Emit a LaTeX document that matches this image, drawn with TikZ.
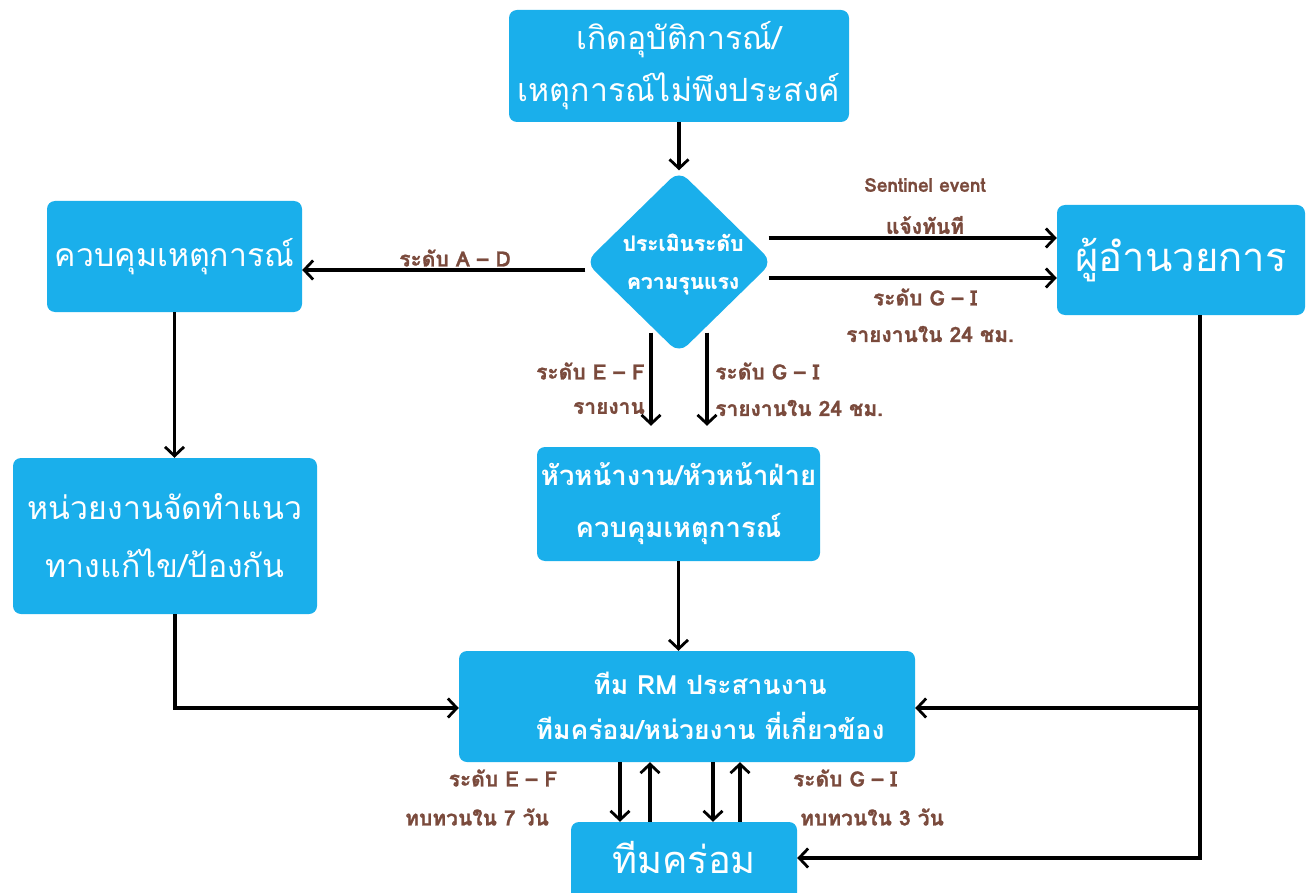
\documentclass[tikz,border=0pt]{standalone}
\usepackage{fontspec}
\newfontfamily\thai[Script=Thai]{Loma}
\newfontfamily\thaiheavy[Script=Thai,BoldFeatures={FakeBold=1.2}]{Loma}
\usetikzlibrary{shapes.geometric,arrows.meta}
\definecolor{boxblue}{RGB}{26,175,235}
\definecolor{lblbrown}{RGB}{122,74,60}
\tikzset{
  box/.style={fill=boxblue, rounded corners=8pt, text=white, align=center,
    inner sep=0pt, font=\thai\fontsize{32}{52}\selectfont},
  boxtext/.style={text=white, align=center, inner sep=0pt},
  decide/.style={diamond, fill=boxblue, rounded corners=12pt, inner sep=0pt},
  lbl/.style={text=lblbrown, inner sep=0pt, font=\thaiheavy\bfseries\fontsize{21}{24}\selectfont},
  arr/.style={line width=3.4pt, -{Straight Barb[length=9pt,width=19pt,line width=2.8pt]}}
}
\begin{document}
\begin{tikzpicture}[x=1pt,y=-1pt]
\useasboundingbox (0,0) rectangle (1306,893);

% process boxes
\node[box, minimum width=340, minimum height=112] (top) at (679,66)
  {เกิดอุบัติการณ์/\\เหตุการณ์ไม่พึงประสงค์};
\node[decide, minimum width=187, minimum height=183] (d) at (679,262) {};
\node[boxtext, font=\thaiheavy\bfseries\fontsize{21}{38}\selectfont] (dtxt) at (683,264)
  {ประเมินระดับ\\ความรุนแรง};
\node[box, minimum width=255, minimum height=111] (ctrl) at (174.5,256.5) {ควบคุมเหตุการณ์};
\node[box, minimum width=248, minimum height=110, font=\thai\fontsize{40}{44}\selectfont] (dir) at (1181,260) {ผู้อำนวยการ};
\node[box, minimum width=304, minimum height=156, font=\thai\fontsize{32}{58}\selectfont] (fix) at (165,536)
  {หน่วยงานจัดทำแนว\\ทางแก้ไข/ป้องกัน};
\node[box, minimum width=283, minimum height=114, font=\thai\bfseries\fontsize{27.5}{52}\selectfont] (head) at (678.5,504)
  {หัวหน้างาน/หัวหน้าฝ่าย\\ควบคุมเหตุการณ์};
\node[box, minimum width=456, minimum height=111] (rm) at (687,706.5) {};
\node[boxtext, font=\thai\bfseries\fontsize{26.5}{45}\selectfont] (rmtxt) at (710,706)
  {ทีม RM ประสานงาน\\ทีมคร่อม/หน่วยงาน ที่เกี่ยวข้อง};
\node[box, minimum width=226, minimum height=80] (team) at (684,862) {};
\node[boxtext, font=\thai\fontsize{38}{40}\selectfont] (teamtxt) at (684,857) {ทีมคร่อม};

% connectors
\draw[arr] (top.south) -- (d.north);
\draw[arr] ([yshift=-8pt]d.west) -- ([yshift=-8pt]d.west -| ctrl.east);
\draw[arr] ([xshift=-4pt,yshift=24pt]d.east) -- ([yshift=22pt]dir.west);
\draw[arr] ([xshift=-4pt,yshift=-16pt]d.east) -- ([yshift=-18pt]dir.west);
\draw[arr] ([xshift=-28pt,yshift=21pt]d.south) -- ([xshift=-28pt,yshift=21pt]d.south |- head.north);
\draw[arr] ([xshift=28pt,yshift=21pt]d.south) -- ([xshift=28pt,yshift=21pt]d.south |- head.north);
\draw[arr] (ctrl.south) -- (ctrl.south |- fix.north);
\draw[arr] ([xshift=10pt]fix.south) |- ([yshift=-1.5pt]rm.west);
\draw[arr] (head.south) -- (head.south |- rm.north);
\draw[arr] ([xshift=19pt]dir.south) |- ([yshift=4pt]team.east);
\draw[arr] ([xshift=19pt,yshift=-1.5pt]dir.south |- rm.east) -- ([yshift=-1.5pt]rm.east);
\draw[arr] ([xshift=-64pt]team.north |- rm.south) -- ([xshift=-64pt]team.north);
\draw[arr] ([xshift=-34pt]team.north) -- ([xshift=-34pt]team.north |- rm.south);
\draw[arr] ([xshift=29pt]team.north |- rm.south) -- ([xshift=29pt]team.north);
\draw[arr] ([xshift=56pt]team.north) -- ([xshift=56pt]team.north |- rm.south);

% connector labels
\node[lbl] (lad) at (455,258) {ระดับ A – D};
\node[lbl, font=\thaiheavy\bfseries\fontsize{19}{22}\selectfont] (lsen) at (925,185) {Sentinel event};
\node[lbl] (lnow) at (925,225) {แจ้งทันที};
\node[lbl] (lgi1) at (925,297) {ระดับ G – I};
\node[lbl] (l24a) at (930,334) {รายงานใน 24 ชม.};
\node[lbl, anchor=east] (lef1) at (645,371) {ระดับ E – F};
\node[lbl, anchor=east] (lrep) at (645,408) {รายงาน};
\node[lbl, anchor=west] (lgi2) at (715,371) {ระดับ G – I};
\node[lbl, anchor=west] (l24b) at (715,408) {รายงานใน 24 ชม.};
\node[lbl] (lef2) at (503,778) {ระดับ E – F};
\node[lbl] (l7d) at (477,817) {ทบทวนใน 7 วัน};
\node[lbl] (lgi3) at (845,778) {ระดับ G – I};
\node[lbl] (l3d) at (872,817) {ทบทวนใน 3 วัน};
\end{tikzpicture}
\end{document}
